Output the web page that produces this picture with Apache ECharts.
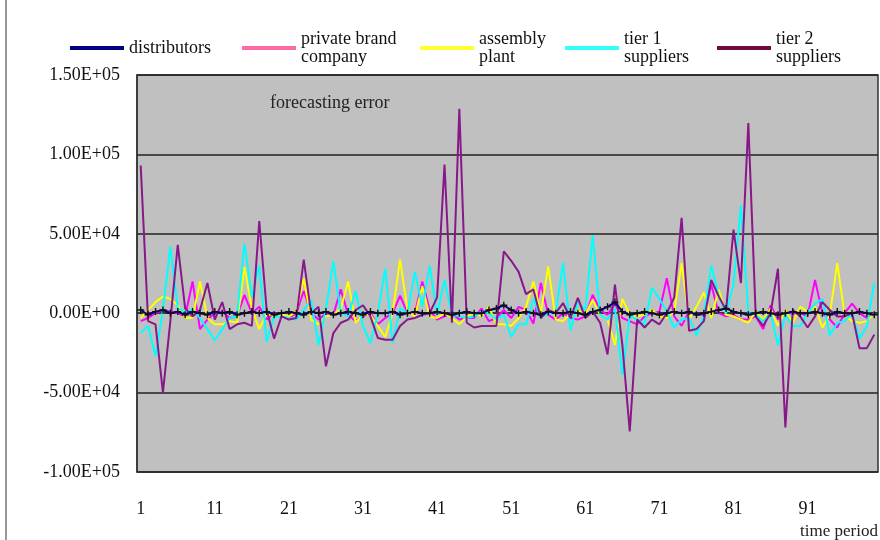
<!DOCTYPE html>
<html><head><meta charset="utf-8">
<script src="https://cdn.jsdelivr.net/npm/echarts@6/dist/echarts.min.js"></script>
<style>html,body{margin:0;padding:0;background:#fff}#c{width:880px;height:540px}</style>
</head><body><div id="c"></div>
<script>
const periods = Array.from({length: 100}, (_, i) => String(i + 1));

const seriesNames = ['distributors', 'private brand company', 'assembly plant', 'tier 1 suppliers', 'tier 2 suppliers'];
const legendLabels = ['distributors', 'private brand\ncompany', 'assembly\nplant', 'tier 1\nsuppliers', 'tier 2\nsuppliers'];

const distributors = [
  2000, -1000, 1000, 2000, 0, 1000, -1000, 1000, 0, -1000,
  1000, 0, 1000, -1000, 0, 1000, 0, 1000, -1000, 0,
  1000, 0, -1000, 1000, 0, 1000, -1000, 0, 1000, 0,
  -1000, 1000, 0, 0, 1000, -1000, 0, 1000, 0, 0,
  1000, 0, -1000, 0, 1000, 0, 0, 2000, 3000, 5000,
  2000, 0, 1000, 0, -1000, 1000, 0, 0, 1000, 0,
  -1000, 1000, 2000, 4000, 7000, 1000, -1000, 0, 1000, 0,
  -1000, 0, 1000, 0, 1000, -1000, 0, 1000, 2000, 3000,
  1000, 0, -1000, 0, 1000, 0, -1000, 0, 1000, 0,
  0, 1000, 0, -1000, 1000, 0, 0, 1000, 0, -1000
];

const privateBrand = [
  -5000, -3000, 0, 2000, 1000, 0, -2000, 20000, -10000, -4000,
  0, 1000, -3000, -2000, 11500, 0, 4000, -4000, 0, -2000,
  -3000, 0, 14000, 0, -4000, 0, -1000, 15000, -1000, -5000,
  -2000, 0, -7000, -3000, 0, 11000, 0, 0, 20000, 2000,
  -4000, -2000, 0, -4000, -3000, -3000, 3000, -5000, -3000, 2000,
  -3000, 4000, 2000, -6500, 19000, -1000, -4000, 0, -3000, -4000,
  -2000, 11500, 2000, -1000, 6000, -3000, -5000, -7000, -2000, 0,
  1000, 22000, -2000, -8000, 1000, -1000, -1000, 18000, 0, -2000,
  -1000, -4000, -4000, -2000, -10000, 5000, -4000, 0, 0, 0,
  -2000, 21000, 0, -4000, -9000, 0, 6000, 0, -3000, 0
];

const assemblyPlant = [
  -3000, 2000, 7000, 10500, 9000, 5000, -3000, -3000, 20000, -3000,
  -7000, -7000, -5000, -6000, 29000, 3000, -10000, 0, -2000, -1000,
  -2000, 1000, 22000, -4000, -7000, -2000, -1000, 3000, 20000, -6000,
  -1000, -1000, -8000, -15000, 0, 33700, 2000, -2000, 17000, -2000,
  -3000, 0, -3000, -7000, -2000, 0, -2000, 4000, -7000, -7000,
  -8000, -3000, 4000, 20000, 0, 29500, -4000, -5000, 0, 2000,
  -1000, 8500, -1000, -4000, -20000, 9000, -1000, -2000, -1000, 2000,
  -2000, -3000, 1000, 31600, -4000, 4000, 13000, -3000, 15000, -1000,
  -2000, -4000, -6000, 1000, -4000, 3000, -8000, 2000, -6000, 4000,
  1000, 4000, -9000, -1000, 31600, -1000, -5000, -6000, -5000, 0
];

const tier1 = [
  -12500, -8000, -27000, 2000, 42000, 3000, 1000, 2000, -3000, -10000,
  -17000, -10000, -3000, -2000, 44000, 10000, 30000, -18000, -2000, -2000,
  -3000, -4000, 2000, 8000, -20000, 3000, 32600, 0, -2000, 14000,
  -8000, -19000, 0, 28000, -19000, 3000, 0, 26000, 4000, 30000,
  -1000, 21000, -1000, -2000, -3000, -2000, 1000, 0, -4000, -1000,
  -15000, -7000, -7000, 9000, -3000, 0, 0, 31600, -11000, 7000,
  2000, 49000, -1000, -4000, 3000, -38800, -1000, -4000, -7000, 16000,
  9000, 1000, -9000, -4000, -3000, -14000, -2000, 30000, 11000, 0,
  18000, 68000, 0, -1000, -5000, 0, -20000, -1000, -8000, -8000,
  0, 6000, 9000, -14000, -6000, -5000, 0, -16000, -8000, 19000
];

const tier2 = [
  93000, -5000, -7000, -50000, -5000, 43000, 3000, -2000, 2000, 19000,
  -4000, 7000, -10000, -7000, -6000, -8000, 58000, 2000, -16000, -2000,
  -4000, -3000, 33700, 0, 4000, -33500, -12500, -6000, -4000, 2000,
  5000, -2000, -15600, -16700, -16700, -8000, -4000, -3000, -1000, 0,
  10000, 93600, -6000, 128700, -6000, -9000, -8000, -8000, -8000, 39000,
  33000, 26000, 12000, 15000, -3000, 2000, 0, 6400, -3000, 9600,
  -3000, 1000, -6000, -26000, 18000, -20000, -74500, -4000, -9000, -4000,
  -7000, 0, 10000, 60000, -11000, -10000, -5000, 21000, 10600, 2000,
  52600, 19000, 119800, -2000, -8000, 0, 28000, -72000, 2000, -2000,
  -9000, -2000, 7000, 2000, -2000, -2000, 0, -22000, -22000, -13500
];

const yTickValues = [-100000, -50000, 0, 50000, 100000, 150000];
const yTickLabels = ['-1.00E+05', '-5.00E+04', '0.00E+00', '5.00E+04', '1.00E+05', '1.50E+05'];

const lineColors = ['#000080', '#ff00ff', '#ffff00', '#00ffff', '#88188a'];
const legendColors = ['#000080', '#ff6aa6', '#ffff33', '#33ffff', '#6e0a40'];
const legendLeft = [65, 237, 415, 560, 712];
const serif = "'Liberation Serif', 'DejaVu Serif', 'Times New Roman', serif";

const chart = echarts.init(document.getElementById('c'), null, {renderer: 'canvas'});
const seriesData = [distributors, privateBrand, assemblyPlant, tier1, tier2];
const crossPath = 'path://M4,0 L6,0 L6,4 L10,4 L10,6 L6,6 L6,10 L4,10 L4,6 L0,6 L0,4 L4,4 Z';

const option = {
  animation: false,
  backgroundColor: '#ffffff',
  grid: {
    left: 137, right: 2, top: 75, bottom: 68,
    show: true, backgroundColor: '#c0c0c0', borderColor: '#333', borderWidth: 1.5
  },
  legend: seriesNames.map((n, i) => ({
    left: legendLeft[i],
    top: i === 0 ? 34 : 25,
    selectedMode: false,
    itemWidth: 54, itemHeight: 4, itemGap: 0,
    data: [{name: n, icon: 'rect', itemStyle: {color: legendColors[i]}}],
    formatter: () => legendLabels[i],
    textStyle: {fontFamily: serif, fontSize: 18, lineHeight: 18, color: '#111'}
  })),
  xAxis: {
    type: 'category',
    data: periods,
    boundaryGap: true,
    axisLine: {show: true, lineStyle: {color: '#333', width: 1.5}},
    axisTick: {show: false},
    axisLabel: {interval: 9, margin: 28, fontFamily: serif, fontSize: 18, color: '#111'},
    splitLine: {show: false}
  },
  yAxis: {
    type: 'value',
    min: -100000, max: 150000, interval: 50000,
    axisLine: {show: true, lineStyle: {color: '#333', width: 1.5}},
    axisTick: {show: false},
    axisLabel: {
      margin: 17, fontFamily: serif, fontSize: 18, color: '#111',
      formatter: v => yTickLabels[yTickValues.indexOf(v)]
    },
    splitLine: {show: true, lineStyle: {color: '#222', width: 1.5}}
  },
  graphic: [
    {type: 'line', shape: {x1: 6, y1: 0, x2: 6, y2: 540}, style: {stroke: '#999', lineWidth: 2}},
    {type: 'text', left: 270, top: 94, style: {text: 'forecasting error', font: '18px ' + serif, fill: '#222'}},
    {type: 'text', right: 2, top: 523, style: {text: 'time period', font: '17px ' + serif, fill: '#222'}}
  ],
  series: seriesNames.map((n, i) => ({
    name: n,
    type: 'line',
    data: seriesData[i],
    z: i === 0 ? 6 : 2 + i * 0.1,
    showSymbol: i === 0,
    showAllSymbol: true,
    symbol: i === 0 ? crossPath : 'none',
    symbolSize: 7,
    itemStyle: {color: i === 0 ? '#111' : lineColors[i]},
    lineStyle: {color: lineColors[i], width: 2},
    emphasis: {disabled: true}
  }))
};
chart.setOption(option);
</script></body></html>
